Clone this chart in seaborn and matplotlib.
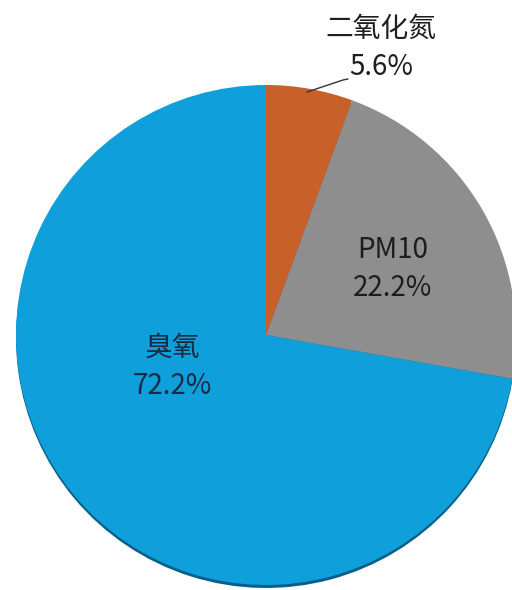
import matplotlib
matplotlib.use("Agg")
import matplotlib.pyplot as plt
import seaborn as sns
import numpy as np

# data
labels = ["二氧化氮", "PM10", "臭氧"]
shares = [5.6, 22.2, 72.2]
colors = ["#C8602A", "#8E8E8E", "#0FA0DC"]
shadow_colors = ["#8A3F18", "#5E5E5E", "#0A5F8A"]

sns.set_theme(style="white")
plt.rcParams['font.family'] = ['Noto Sans CJK SC', 'DejaVu Sans']

fig = plt.figure(figsize=(5.12, 5.90), dpi=100)
ax = fig.add_axes([0, 0, 1, 1])

R = 250
# soft shadow under the pie
ax.pie(shares, colors=shadow_colors, startangle=90, counterclock=False,
       radius=R, center=(0, -3), frame=True,
       wedgeprops=dict(linewidth=0))
wedges, _ = ax.pie(shares, colors=colors, startangle=90, counterclock=False,
                   radius=R, center=(0, 0), frame=True,
                   wedgeprops=dict(linewidth=0))
ax.set_xlim(-266, 246)
ax.set_ylim(-255, 335)
ax.set_aspect("equal")
ax.axis("off")

txt = dict(ha="center", va="center", color="#1E1E1E", fontsize=20,
           linespacing=1.38)

# 二氧化氮 outside with leader line
ax.plot([41, 77, 82], [243, 255, 256], color="#333333", lw=1)
ax.text(115, 287, f"{labels[0]}\n{shares[0]}%", **txt)
# PM10 inside
ax.text(127, 66, f"{labels[1]}\n{shares[1]}%", **txt)
# 臭氧 inside
ax.text(-94, -32, f"{labels[2]}\n{shares[2]}%", **dict(txt, color="#1B2A44"))

fig.savefig("out.png", dpi=100)
